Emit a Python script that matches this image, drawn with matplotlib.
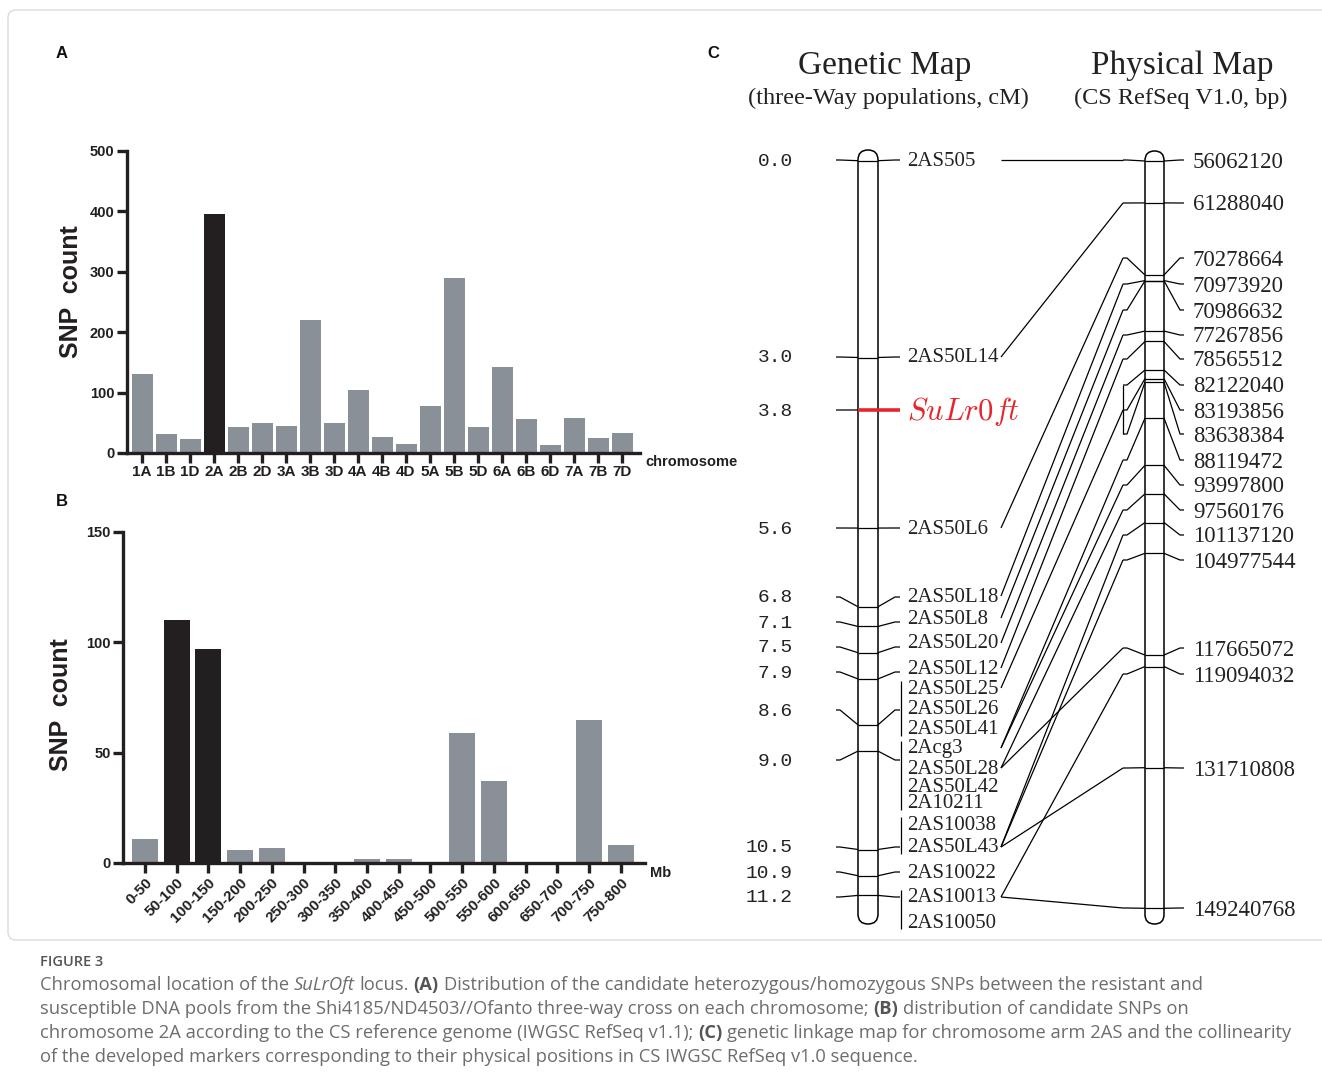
import matplotlib
matplotlib.use('Agg')
import matplotlib.pyplot as plt
from matplotlib.patches import FancyBboxPatch

W, H = 1322, 1090
DPI = 100

# ---------------- data ----------------
chromosomes = ['1A', '1B', '1D', '2A', '2B', '2D', '3A', '3B', '3D', '4A', '4B',
               '4D', '5A', '5B', '5D', '6A', '6B', '6D', '7A', '7B', '7D']
snp_by_chrom = [131, 32, 23, 396, 43, 50, 45, 220, 50, 104, 27,
                15, 78, 290, 43, 142, 56, 13, 58, 25, 33]
highlight_chrom = ['2A']

bins_mb = ['0-50', '50-100', '100-150', '150-200', '200-250', '250-300', '300-350',
           '350-400', '400-450', '450-500', '500-550', '550-600', '600-650',
           '650-700', '700-750', '750-800']
snp_by_bin = [11, 110, 97, 6, 7, 0, 0, 2, 2, 0, 59, 37, 0, 0, 65, 8]
highlight_bins = ['50-100', '100-150']

genetic_markers = ['2AS505', '2AS50L14', 'SuLrOft', '2AS50L6', '2AS50L18', '2AS50L8',
                   '2AS50L20', '2AS50L12', '2AS50L25', '2AS50L26', '2AS50L41',
                   '2Acg3', '2AS50L28', '2AS50L42', '2A10211', '2AS10038',
                   '2AS50L43', '2AS10022', '2AS10013', '2AS10050']
genetic_cM = [0.0, 3.0, 3.8, 5.6, 6.8, 7.1, 7.5, 7.9, 8.6, 8.6, 8.6,
              9.0, 9.0, 9.0, 9.0, 10.5, 10.5, 10.9, 11.2, 11.2]
gene_name = 'SuLrOft'

physical_bp = [56062120, 61288040, 70278664, 70973920, 70986632, 77267856,
               78565512, 82122040, 83193856, 83638384, 88119472, 93997800,
               97560176, 101137120, 104977544, 117665072, 119094032,
               131710808, 149240768]

# marker -> physical position (by bp value)
links = [('2AS505', 56062120), ('2AS50L14', 61288040), ('2AS50L6', 70278664),
         ('2AS50L18', 70973920), ('2AS50L8', 70986632), ('2AS50L20', 77267856),
         ('2AS50L12', 78565512), ('2AS50L25', 83193856),
         ('2Acg3', 88119472), ('2Acg3', 93997800),
         ('2AS50L28', 97560176), ('2AS50L28', 117665072),
         ('2AS50L43', 101137120), ('2AS50L43', 104977544), ('2AS50L43', 131710808),
         ('2AS10013', 119094032), ('2AS10013', 149240768)]
physical_groups = [(82122040, 83638384)]

# ---------------- layout (pixels) ----------------
G_Y0, G_K = 160.7, 65.6          # genetic map: y = G_Y0 + G_K * cM
P_Y0, P_K = 161.0, 8.02          # physical map: y = P_Y0 + P_K * Mb offset
locus_anchor_y = [160, 357, 410, 528, 597, 622, 647, 672, 710, 760, 847, 872, 897]
marker_text_y = [160, 357, 410, 528, 596, 618, 643, 668, 688, 709, 729, 748, 768,
                 786, 803, 824, 847, 872, 897, 922]
phys_anchor_y = [160, 203, 258, 284, 310, 335, 359, 385, 410, 434, 460, 485, 510,
                 535, 560, 648, 674, 768, 908]

INK = '#231f20'
GREY = '#8a9097'
RED = '#e8242c'

plt.rcParams['mathtext.fontset'] = 'cm'
fig = plt.figure(figsize=(W / DPI, H / DPI), dpi=DPI)
fig.patch.set_facecolor('white')

# full-figure overlay axes in pixel coordinates
axc = fig.add_axes([0, 0, 1, 1])
axc.set_xlim(0, W)
axc.set_ylim(H, 0)
axc.axis('off')

# frame
axc.add_patch(FancyBboxPatch((8, 10), W + 20, 930, boxstyle='round,pad=0,rounding_size=8',
                             fc='none', ec='#dcdcdc', lw=1.0, zorder=0))

SANS = 'Liberation Sans'


def style_bar_axes(ax, xsize):
    for s in ['top', 'right']:
        ax.spines[s].set_visible(False)
    for s in ['left', 'bottom']:
        ax.spines[s].set_linewidth(2.4)
        ax.spines[s].set_color(INK)
    ax.tick_params(direction='out', length=7, width=2.4, color=INK, pad=2)
    for lab in ax.get_yticklabels():
        lab.set_fontfamily(SANS)
        lab.set_fontweight('bold')
        lab.set_fontsize(10.5)
        lab.set_color(INK)
    for lab in ax.get_xticklabels():
        lab.set_fontfamily(SANS)
        lab.set_fontweight('bold')
        lab.set_fontsize(xsize)
        lab.set_color(INK)
    ax.set_facecolor('none')


# ---------------- panel A ----------------
axA = fig.add_axes([127 / W, 1 - 453 / H, (640 - 127) / W, (453 - 151) / H])
colsA = [INK if c in highlight_chrom else GREY for c in chromosomes]
axA.bar(range(len(chromosomes)), snp_by_chrom, width=0.875, color=colsA, edgecolor='none')
axA.set_xlim(-0.625, len(chromosomes) - 0.25)
axA.set_ylim(0, 500)
axA.set_yticks(range(0, 501, 100))
axA.set_xticks(range(len(chromosomes)))
axA.set_xticklabels(chromosomes)
style_bar_axes(axA, 11)

# ---------------- panel B ----------------
axB = fig.add_axes([123 / W, 1 - 863 / H, (645 - 123) / W, (863 - 532) / H])
colsB = [INK if b in highlight_bins else GREY for b in bins_mb]
axB.bar(range(len(bins_mb)), snp_by_bin, width=0.82, color=colsB, edgecolor='none')
axB.set_xlim(-0.69, len(bins_mb) - 0.24)
axB.set_ylim(0, 150)
axB.set_yticks([0, 50, 100, 150])
axB.set_xticks(range(len(bins_mb)))
axB.set_xticklabels(bins_mb, rotation=45, ha='right', rotation_mode='anchor')
style_bar_axes(axB, 11)

# axis texts
axc.text(71, 292, 'SNP  count', rotation=90, ha='center', va='center', fontsize=18,
         fontweight='bold', family=SANS, color=INK)
axc.text(61, 705, 'SNP  count', rotation=90, ha='center', va='center', fontsize=18,
         fontweight='bold', family=SANS, color=INK)
axc.text(645, 462, 'chromosome', ha='left', va='center', fontsize=10.5,
         fontweight='bold', family=SANS, color=INK)
axc.text(650, 873, 'Mb', ha='left', va='center', fontsize=10.5,
         fontweight='bold', family=SANS, color=INK)
for lab, (x, y) in zip(['A', 'B', 'C'], [(62, 54), (62, 502), (713, 54)]):
    axc.text(x, y, lab, ha='center', va='center', fontsize=12, fontweight='bold',
             family=SANS, color='#111111')

# ---------------- panel C ----------------
SERIF = 'Liberation Serif'
LW = 0.9
K = dict(color='black', lw=LW, solid_capstyle='butt')


def gy(cm):
    return G_Y0 + G_K * cm


def py(bp):
    return P_Y0 + P_K * (bp - physical_bp[0]) / 1e6


# chromosome bodies
axc.add_patch(FancyBboxPatch((858, 150), 20, 774, boxstyle='round,pad=0,rounding_size=10',
                             fc='none', ec='black', lw=1.1))
axc.add_patch(FancyBboxPatch((1145, 151), 19, 773, boxstyle='round,pad=0,rounding_size=9.5',
                             fc='none', ec='black', lw=1.1))

loci = sorted(set(genetic_cM))
for i, cm in enumerate(loci):
    yc = gy(cm)
    ya = locus_anchor_y[i]
    idx = [k for k, c in enumerate(genetic_cM) if c == cm]
    is_gene = any(genetic_markers[k] == gene_name for k in idx)
    axc.plot([836, 840, 858], [ya, ya, yc], **K)
    if is_gene:
        axc.plot([858, 900], [yc, yc], color=RED, lw=2.6, solid_capstyle='butt')
    else:
        axc.plot([858, 878], [yc, yc], **K)
        axc.plot([878, 895, 900], [yc, ya, ya], **K)
    axc.text(793, ya + 1, f'{cm:.1f}', ha='right', va='center', fontsize=14,
             family='Liberation Mono', color='#222222')
    if len(idx) > 1:
        axc.plot([901, 901], [marker_text_y[idx[0]] - 7, marker_text_y[idx[-1]] + 7], **K)
    for k in idx:
        name = genetic_markers[k]
        if name == gene_name:
            axc.text(907, marker_text_y[k] + 1, r'$' + name.replace('O', '0') + '$',
                     ha='left', va='center', fontsize=22, color=RED)
        else:
            axc.text(907, marker_text_y[k] + 1, name, ha='left', va='center',
                     fontsize=15, family=SERIF, color='#222222')

for j, bp in enumerate(physical_bp):
    yc = py(bp)
    ya = phys_anchor_y[j]
    axc.plot([1123, 1127, 1145], [ya, ya, yc], **K)
    axc.plot([1145, 1164], [yc, yc], **K)
    axc.plot([1164, 1180, 1184], [yc, ya, ya], **K)
    axc.text(1193, ya + 2, str(bp), ha='left', va='center', fontsize=16.4,
             family=SERIF, color='#222222')

for a, b in physical_groups:
    ja, jb = physical_bp.index(a), physical_bp.index(b)
    axc.plot([1123, 1123], [phys_anchor_y[ja], phys_anchor_y[jb]], **K)

for name, bp in links:
    k = genetic_markers.index(name)
    j = physical_bp.index(bp)
    axc.plot([1001, 1123], [marker_text_y[k], phys_anchor_y[j]], **K)

axc.text(885, 66, 'Genetic Map', ha='center', va='center', fontsize=24, family=SERIF,
         color='#222222')
axc.text(888, 98, '(three-Way populations, cM)', ha='center', va='center', fontsize=17.5,
         family=SERIF, color='#222222')
axc.text(1182, 66, 'Physical Map', ha='center', va='center', fontsize=24, family=SERIF,
         color='#222222')
axc.text(1181, 98, '(CS RefSeq V1.0, bp)', ha='center', va='center', fontsize=17.5,
         family=SERIF, color='#222222')

# ---------------- caption ----------------
CAP = 'Open Sans'
CAPC = '#6d6d6d'
axc.text(40, 962, 'FIGURE 3', ha='left', va='center', fontsize=10.5, family=CAP,
         color='#555555', fontweight='semibold')

renderer = fig.canvas.get_renderer()


def text_width(s, **kw):
    t = axc.text(0, 0, s, **kw)
    w = t.get_window_extent(renderer).width
    t.remove()
    return w


base_kw = dict(fontsize=13.2, family=CAP, color=CAPC, va='center', ha='left')
space_w = text_width('x x', **base_kw) - text_width('xx', **base_kw)


def draw_runs(y, runs):
    x = 40
    for txt, st in runs:
        kw = dict(base_kw)
        if st == 'i':
            kw['fontstyle'] = 'italic'
        elif st == 'b':
            kw['fontweight'] = 'bold'
            kw['color'] = '#555555'
        lead = len(txt) - len(txt.lstrip(' '))
        trail = len(txt) - len(txt.rstrip(' '))
        core = txt.strip(' ')
        x += lead * space_w
        t = axc.text(x, y, core, **kw)
        x += t.get_window_extent(renderer).width + trail * space_w


caption_lines = [
    [('Chromosomal location of the ', 'n'), ('SuLrOft', 'i'), (' locus. ', 'n'), ('(A)', 'b'),
     (' Distribution of the candidate heterozygous/homozygous SNPs between the resistant and', 'n')],
    [('susceptible DNA pools from the Shi4185/ND4503//Ofanto three-way cross on each chromosome; ', 'n'),
     ('(B)', 'b'), (' distribution of candidate SNPs on', 'n')],
    [('chromosome 2A according to the CS reference genome (IWGSC RefSeq v1.1); ', 'n'),
     ('(C)', 'b'), (' genetic linkage map for chromosome arm 2AS and the collinearity', 'n')],
    [('of the developed markers corresponding to their physical positions in CS IWGSC RefSeq v1.0 sequence.', 'n')],
]
for li, runs in enumerate(caption_lines):
    draw_runs(985 + 24 * li, runs)

fig.savefig('out.png', dpi=DPI, facecolor='white')
